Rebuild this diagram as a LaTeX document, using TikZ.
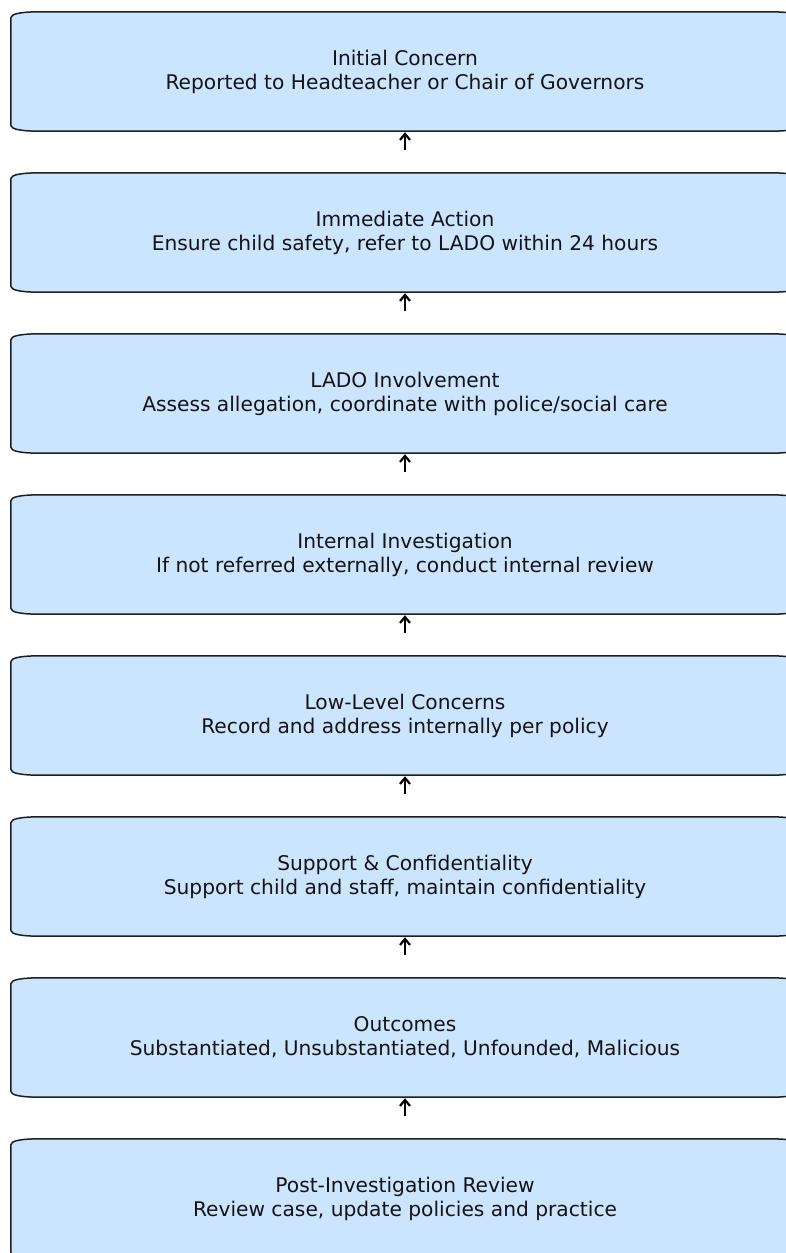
\documentclass[tikz,border=0pt]{standalone}
\usepackage{fontspec}
\setmainfont{DejaVu Sans}
\usetikzlibrary{arrows.meta,calc,backgrounds}
\definecolor{boxfill}{RGB}{204,229,255}
\definecolor{boxedge}{RGB}{30,30,30}
\definecolor{txt}{RGB}{20,20,20}
\tikzset{
  stage/.style={minimum width=788pt, minimum height=119pt, inner sep=0pt, align=center,
    text=txt, font=\fontsize{20.2}{24}\selectfont},
  outline/.style={draw=boxedge, fill=boxfill, line width=1.5pt},
  arr/.style={-{Straight Barb[length=6pt,width=10pt,line width=2.2pt]}, line width=2pt, black,
    shorten <=23pt, shorten >=1pt}
}
\begin{document}
\begin{tikzpicture}[x=1pt,y=-1pt]
\clip (0,0) rectangle (786,1253);
\node[stage] (n1) at (405,71.5) {Initial Concern\\Reported to Headteacher or Chair of Governors};
\node[stage] (n2) at (405,232.5) {Immediate Action\\Ensure child safety, refer to LADO within 24 hours};
\node[stage] (n3) at (405,393.5) {LADO Involvement\\Assess allegation, coordinate with police/social care};
\node[stage] (n4) at (405,554.5) {Internal Investigation\\If not referred externally, conduct internal review};
\node[stage] (n5) at (405,715.5) {Low-Level Concerns\\Record and address internally per policy};
\node[stage] (n6) at (405,876.5) {Support \& Confidentiality\\Support child and staff, maintain confidentiality};
\node[stage] (n7) at (405,1037.5) {Outcomes\\Substantiated, Unsubstantiated, Unfounded, Malicious};
\node[stage] (n8) at (405,1198.5) {Post-Investigation Review\\Review case, update policies and practice};
\begin{scope}[on background layer]
\foreach \n in {n1,n2,n3,n4,n5,n6,n7,n8}{
  \path[outline] ($(\n.north west)+(30,0)$) -- ($(\n.north east)+(-30,0)$)
    .. controls ($(\n.north east)+(-10,0)$) and ($(\n.north east)+(0,2)$) .. ($(\n.north east)+(0,6)$)
    -- ($(\n.south east)+(0,-6)$)
    .. controls ($(\n.south east)+(0,-2)$) and ($(\n.south east)+(-10,0)$) .. ($(\n.south east)+(-30,0)$)
    -- ($(\n.south west)+(30,0)$)
    .. controls ($(\n.south west)+(10,0)$) and ($(\n.south west)+(0,-2)$) .. ($(\n.south west)+(0,-6)$)
    -- ($(\n.north west)+(0,6)$)
    .. controls ($(\n.north west)+(0,2)$) and ($(\n.north west)+(10,0)$) .. cycle;
}
\end{scope}
\draw[arr] (n2.north) -- (n1.south);
\draw[arr] (n3.north) -- (n2.south);
\draw[arr] (n4.north) -- (n3.south);
\draw[arr] (n5.north) -- (n4.south);
\draw[arr] (n6.north) -- (n5.south);
\draw[arr] (n7.north) -- (n6.south);
\draw[arr] (n8.north) -- (n7.south);
\end{tikzpicture}
\end{document}
